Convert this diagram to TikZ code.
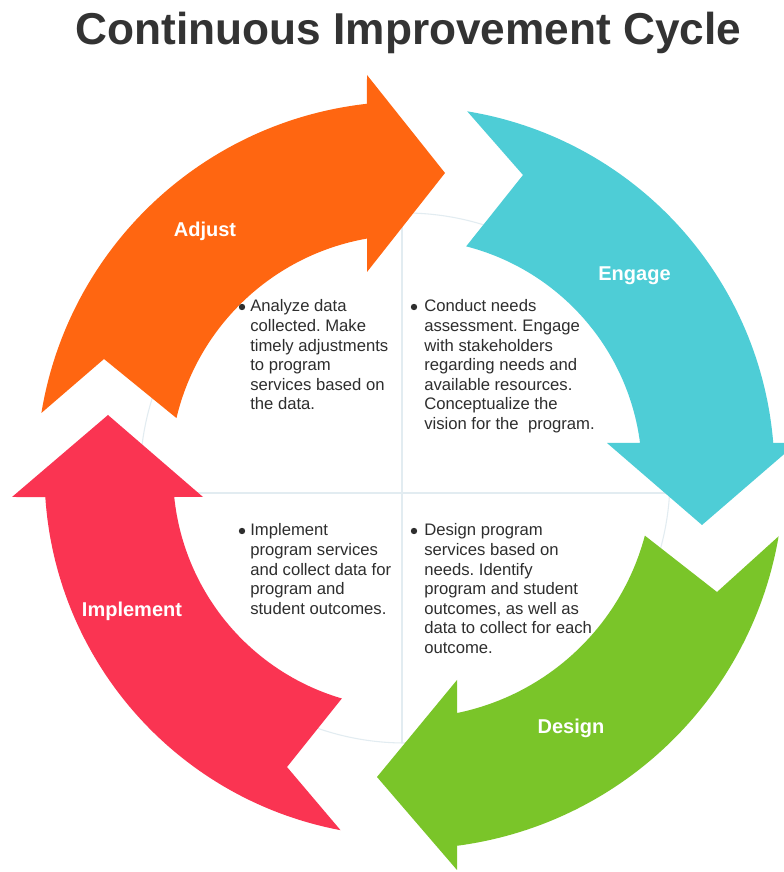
\documentclass[tikz,border=0pt]{standalone}
\usepackage{fontspec}
\setmainfont{Liberation Sans}
\frenchspacing
\definecolor{cOrange}{HTML}{FF6611}
\definecolor{cCyan}{HTML}{4ECDD6}
\definecolor{cGreen}{HTML}{7AC529}
\definecolor{cRed}{HTML}{FA3452}
\definecolor{titleC}{HTML}{333333}
\definecolor{txtC}{HTML}{2E2E2E}
\definecolor{faintC}{HTML}{E2ECF1}
\begin{document}
\begin{tikzpicture}[x=0.75pt,y=0.75pt,
  faint/.style={draw=faintC, line width=0.8pt},
  lbl/.style={text=white, font=\fontsize{15}{18}\selectfont\bfseries, inner sep=0pt, anchor=base},
  body/.style={text=txtC, font=\fontsize{12.5}{14.7}\selectfont, inner sep=0pt, anchor=base west},
  dot/.style={fill=txtC}]
\useasboundingbox (0,0) rectangle (784,872);
\clip (0,0) rectangle (784,872);
\fill[white] (0,0) rectangle (784,872);
\node[inner sep=0pt, anchor=base, xscale=0.99, text=titleC, font=\fontsize{33.5}{40}\selectfont\bfseries] (title) at (408.5,827) {Continuous Improvement Cycle};
\begin{scope}[shift={(408,399)}]
  \draw[faint] (-3,-5) circle[radius=265];
  \draw[faint] (-6,260) -- (-6,-270);
  \draw[faint] (-267,-20) -- (262,-20);
  % Adjust (orange)
  \fill[cOrange] (170.7:371.5) arc[start angle=170.7, end angle=96.34, radius=371.5]
    -- (-41,398) -- (37,300) -- (-41,201)
    -- (99.92:238) arc[start angle=99.92, end angle=166.65, radius=238]
    -- (-304,114) -- cycle;
  % Engage (cyan)
  \fill[cCyan] (80.7:366.5) arc[start angle=80.7, end angle=4.7, radius=366.5]
    -- (389,30) -- (294,-52) -- (199,30)
    -- (7.37:234) arc[start angle=7.37, end angle=75.6, radius=234]
    -- (115,298) -- cycle;
  % Design (green)
  \fill[cGreen] (-9.69:376) arc[start angle=-9.69, end angle=-82.51, radius=376]
    -- (49,-397) -- (-31,-304) -- (49,-207)
    -- (-78.46:245) arc[start angle=-78.46, end angle=-14.81, radius=245]
    -- (309,-119) -- cycle;
  % Implement (red)
  \fill[cRed] (259.3:363.5) arc[start angle=259.3, end angle=183.79, radius=363.5]
    -- (-396,-24) -- (-300,58) -- (-205,-24)
    -- (185.86:235) arc[start angle=185.86, end angle=253.65, radius=235]
    -- (-121,-294) -- cycle;
\end{scope}
\node[lbl] (adjust) at (205,635) {Adjust};
\node[lbl] (engage) at (634.5,591) {Engage};
\node[lbl] (implement) at (132,255) {Implement};
\node[lbl] (design) at (571,138) {Design};
\fill[dot] (242,565) circle[radius=3.2];
\fill[dot] (414,565) circle[radius=3.2];
\fill[dot] (242,341) circle[radius=3.2];
\fill[dot] (414,341) circle[radius=3.2];
\node[body] (q1) at (250,560) {\begin{tabular}[t]{@{}l@{}}Analyze data\\collected. Make\\timely adjustments\\to program\\services based on\\the data.\end{tabular}};
\node[body] (q2) at (424,560) {\begin{tabular}[t]{@{}l@{}}Conduct needs\\assessment. Engage\\with stakeholders\\regarding needs and\\available resources.\\Conceptualize the\\vision for the~ program.\end{tabular}};
\node[body] (q3) at (250,336) {\begin{tabular}[t]{@{}l@{}}Implement\\program services\\and collect data for\\program and\\student outcomes.\end{tabular}};
\node[body] (q4) at (424,336) {\begin{tabular}[t]{@{}l@{}}Design program\\services based on\\needs. Identify\\program and student\\outcomes, as well as\\data to collect for each\\outcome.\end{tabular}};
\end{tikzpicture}
\end{document}
